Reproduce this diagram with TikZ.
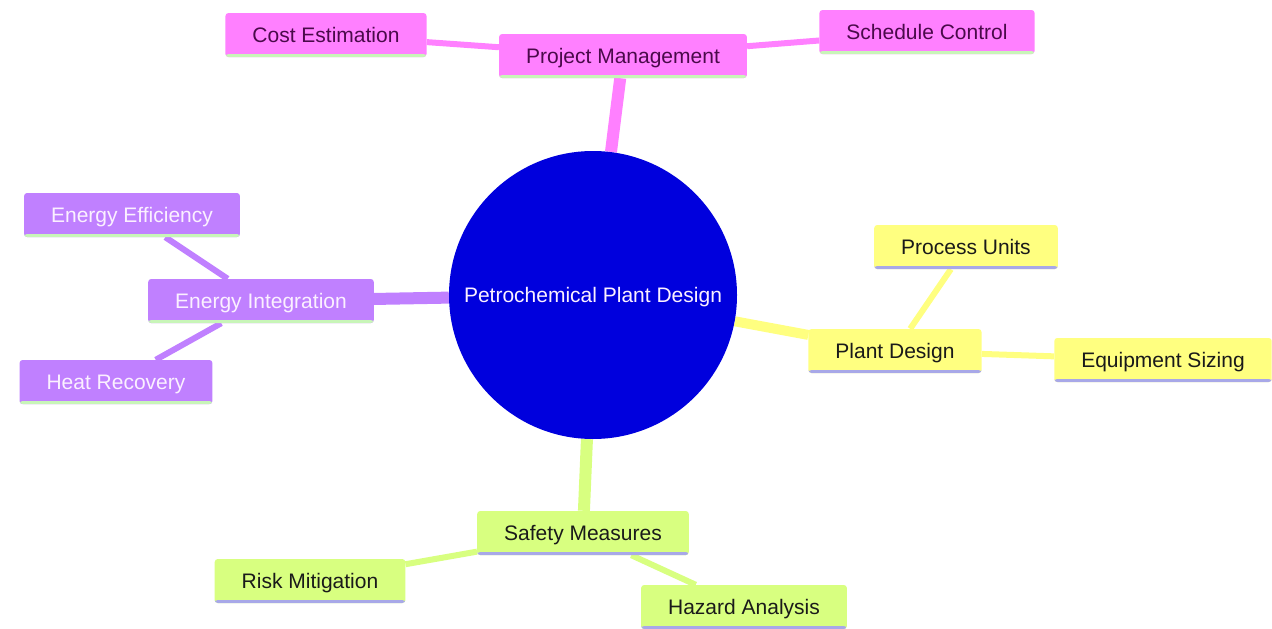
\documentclass[tikz,border=0pt]{standalone}
\usepackage{fontspec}
\setmainfont{Liberation Sans}
\usetikzlibrary{backgrounds}
\definecolor{pinkbox}{HTML}{FF80FF}
\definecolor{pinktxt}{HTML}{4A0A4A}
\definecolor{purpbox}{HTML}{C080FF}
\definecolor{purptxt}{HTML}{FBF0FF}
\definecolor{yelbox}{HTML}{FFFF80}
\definecolor{greenbox}{HTML}{D8FF80}
\definecolor{darktxt}{HTML}{1A1A1A}
\definecolor{lavline}{HTML}{A8A8E8}
\definecolor{grnline}{HTML}{C8F5B8}
\definecolor{hub}{HTML}{0000DD}
\tikzset{
  x=1pt,y=-1pt,
  box/.style={rounded corners=3pt, inner xsep=27pt, inner ysep=0pt, minimum height=44pt,
    text height=15pt, text depth=0pt,
    font=\fontsize{21}{24}\selectfont, anchor=center},
  bline/.style={path picture={\fill[#1] ([yshift=3pt]path picture bounding box.south west) rectangle (path picture bounding box.south east);}},
  pinkn/.style={box, fill=pinkbox, text=pinktxt, bline=grnline},
  purpn/.style={box, fill=purpbox, text=purptxt, bline=grnline},
  yeln/.style={box, fill=yelbox, text=darktxt, bline=lavline},
  grnn/.style={box, fill=greenbox, text=darktxt, bline=lavline},
  main/.style={line width=12pt},
  sub/.style={line width=6pt},
}
\begin{document}
\begin{tikzpicture}
\useasboundingbox (0,0) rectangle (1272,629);
\node[circle, fill=hub, minimum size=288pt, inner sep=0pt, text=purptxt,
  text height=15pt, text depth=0pt,
  font=\fontsize{21}{24}\selectfont] (c) at (593,295) {Petrochemical Plant Design};
\node[pinkn] (pm) at (623,56) {Project Management};
\node[pinkn] (ce) at (326,35) {Cost Estimation};
\node[pinkn] (sc) at (927,32) {Schedule Control};
\node[purpn] (ei) at (261,301) {Energy Integration};
\node[purpn] (ee) at (132,215) {Energy Efficiency};
\node[purpn] (hr) at (116,382) {Heat Recovery};
\node[yeln] (pd) at (895,351) {Plant Design};
\node[yeln] (pu) at (966,247) {Process Units};
\node[yeln] (es) at (1163,360) {Equipment Sizing};
\node[grnn] (sm) at (583,533) {Safety Measures};
\node[grnn] (rm) at (310,581) {Risk Mitigation};
\node[grnn] (ha) at (744,607) {Hazard Analysis};
\begin{pgfonlayer}{background}
\fill[white] (0,0) rectangle (1272,629);
\draw[main, pinkbox] (c) -- (pm);
\draw[sub, pinkbox] (pm) -- (ce);
\draw[sub, pinkbox] (pm) -- (sc);
\draw[main, purpbox] (c) -- (ei);
\draw[sub, purpbox] (ei) -- (ee);
\draw[sub, purpbox] (ei) -- (hr);
\draw[line width=10pt, yelbox] (c) -- (pd);
\draw[sub, yelbox] (pd) -- (pu);
\draw[sub, yelbox] (pd) -- (es);
\draw[main, greenbox] (c) -- (sm);
\draw[sub, greenbox] (sm) -- (rm);
\draw[sub, greenbox] (sm) -- (ha);
\end{pgfonlayer}
\end{tikzpicture}
\end{document}
